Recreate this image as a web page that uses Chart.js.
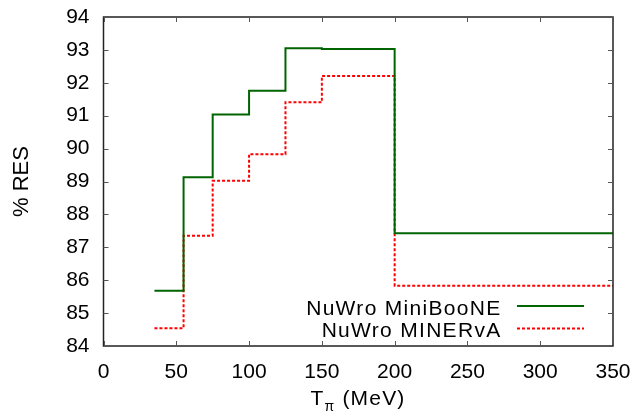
<!DOCTYPE html>
<html>
<head>
<meta charset="utf-8">
<script src="https://cdn.jsdelivr.net/npm/chart.js@4"></script>
<style>
  html, body { margin: 0; padding: 0; background: #fff; }
  #wrap { position: relative; width: 638px; height: 416px; }
  #xTitle { position: absolute; left: 258px; width: 200px; top: 386px; line-height: 24px; text-align: center;
            font-family: "Liberation Sans", Arial, sans-serif; font-size: 21px; letter-spacing: 1.2px; color: #000; }
  #xTitle sub { font-size: 14px; vertical-align: -6px; line-height: 0; }
</style>
</head>
<body>
<div id="wrap">
  <canvas id="resChart" width="638" height="416"></canvas>
  <div id="xTitle">T<sub>π</sub> (MeV)</div>
</div>
<script>
"use strict";

// bin edges in T_pi (MeV) and the % RES per bin
const binEdges = [35, 55, 75, 100, 125, 150, 200, 350];
const miniBooNE = [85.68, 89.13, 91.04, 91.76, 93.05, 93.03, 87.43];
const minerva = [84.54, 87.35, 89.02, 89.83, 91.41, 92.21, 85.83];
const xTicks = [0, 50, 100, 150, 200, 250, 300, 350];
const yTicks = [84, 85, 86, 87, 88, 89, 90, 91, 92, 93, 94];

const FONT = '"Liberation Sans", Arial, sans-serif';

// histogram -> step points (last value repeated at the right edge)
function toSteps(values) {
    const pts = values.map((v, i) => ({ x: binEdges[i], y: v }));
    pts.push({ x: binEdges[binEdges.length - 1], y: values[values.length - 1] });
    return pts;
}

// frame + inward ticks on all four sides, gnuplot style
const framePlugin = {
    id: 'frame',
    afterDatasetsDraw(chart) {
        const { ctx, chartArea: a, scales } = chart;
        ctx.save();
        ctx.strokeStyle = '#222';
        ctx.lineWidth = 1.5;
        ctx.strokeRect(a.left, a.top, a.right - a.left, a.bottom - a.top);
        ctx.lineWidth = 1;
        ctx.strokeStyle = '#555';
        const len = 5;
        ctx.beginPath();
        xTicks.forEach(t => {
            const px = Math.round(scales.x.getPixelForValue(t)) + 0.5;
            ctx.moveTo(px, a.bottom); ctx.lineTo(px, a.bottom - len);
            ctx.moveTo(px, a.top); ctx.lineTo(px, a.top + len);
        });
        yTicks.forEach(t => {
            const py = Math.round(scales.y.getPixelForValue(t)) + 0.5;
            ctx.moveTo(a.left, py); ctx.lineTo(a.left + len, py);
            ctx.moveTo(a.right, py); ctx.lineTo(a.right - len, py);
        });
        ctx.stroke();
        ctx.restore();
    }
};

// legend inside the plot, text right aligned then line sample
const insideLegend = {
    id: 'insideLegend',
    afterDraw(chart) {
        const { ctx } = chart;
        ctx.save();
        ctx.font = `21px ${FONT}`;
        ctx.letterSpacing = '1.3px';
        ctx.textAlign = 'right';
        ctx.textBaseline = 'middle';
        chart.data.datasets.forEach((ds, i) => {
            const y = 306 + i * 22.5;
            ctx.fillStyle = '#000';
            ctx.fillText(ds.label, 501.5, y + 3);
            ctx.strokeStyle = ds.borderColor;
            ctx.lineWidth = ds.borderWidth;
            ctx.setLineDash(ds.borderDash || []);
            ctx.beginPath();
            ctx.moveTo(517, y); ctx.lineTo(584, y);
            ctx.stroke();
        });
        ctx.restore();
    }
};

const ctx = document.getElementById('resChart').getContext('2d');
new Chart(ctx, {
    type: 'line',
    data: {
        datasets: [
            { label: 'NuWro MiniBooNE', data: toSteps(miniBooNE), stepped: 'before',
              borderColor: '#006400', borderWidth: 2, pointRadius: 0, fill: false },
            { label: 'NuWro MINERvA', data: toSteps(minerva), stepped: 'before',
              borderColor: '#ff0000', borderWidth: 2, borderDash: [3, 2], pointRadius: 0, fill: false }
        ]
    },
    options: {
        responsive: false, animation: false,
        layout: { padding: { top: 17, right: 25, left: 9, bottom: 0 } },
        plugins: { legend: { display: false }, tooltip: { enabled: false } },
        scales: {
            x: {
                type: 'linear', min: 0, max: 350,
                afterBuildTicks: s => { s.ticks = xTicks.map(v => ({ value: v })); },
                grid: { display: false, drawTicks: false },
                border: { display: false },
                ticks: { color: '#000', font: { family: FONT, size: 21 }, padding: 14, maxRotation: 0 },
                afterFit: s => { s.height = 70; s.paddingLeft = 0; s.paddingRight = 0; }
            },
            y: {
                type: 'linear', min: 84, max: 94,
                afterBuildTicks: s => { s.ticks = yTicks.map(v => ({ value: v })); },
                grid: { display: false, drawTicks: false },
                border: { display: false },
                ticks: { color: '#000', font: { family: FONT, size: 21 }, padding: 14 },
                title: { display: true, text: '% RES', color: '#000', font: { family: FONT, size: 22 }, padding: { top: 0, bottom: 0 } },
                afterFit: s => { s.width = 94.5; s.paddingTop = 0; s.paddingBottom = 0; }
            }
        }
    },
    plugins: [framePlugin, insideLegend]
});
</script>
</body>
</html>
